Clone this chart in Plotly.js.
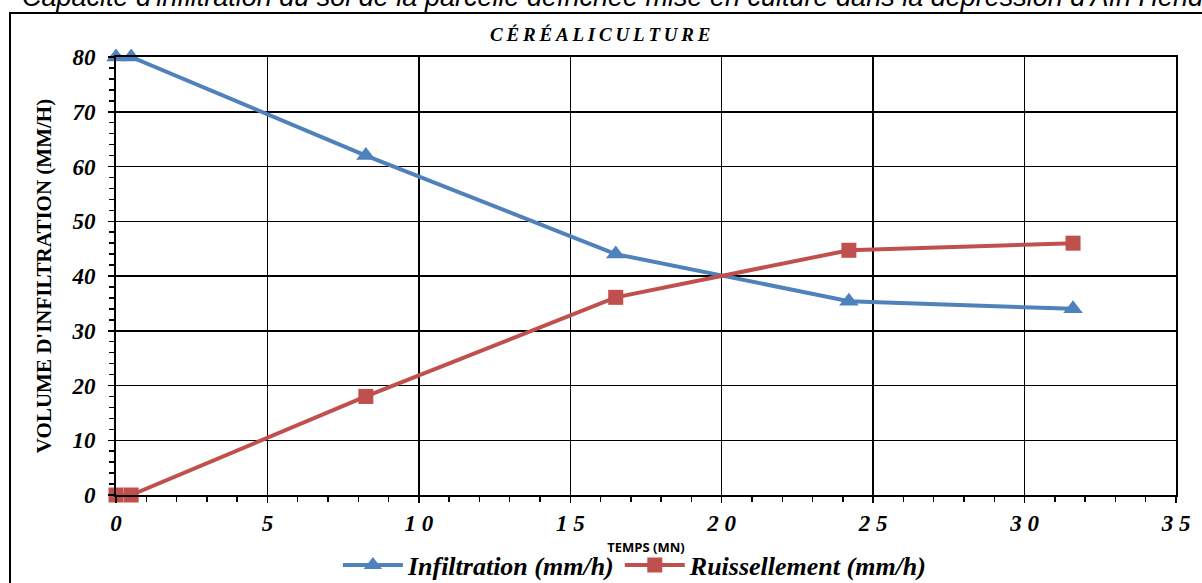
<!DOCTYPE html>
<html><head><meta charset="utf-8">
<script src="https://cdn.plot.ly/plotly-3.0.1.min.js"></script>
<style>body{margin:0;padding:0;background:#fff}#c{width:1202px;height:583px}</style>
</head><body><div id="c"></div>
<script>
const temps = [0, 0.5, 8.25, 16.5, 24.2, 31.6];
const infiltration = [80, 80, 62, 44, 35.4, 34];
const ruissellement = [0, 0, 18, 36.1, 44.7, 46];
const xTickVals = [0, 5, 10, 15, 20, 25, 30, 35];
const xTickText = ['0', '5', '1 0', '1 5', '2 0', '2 5', '3 0', '3 5'];
const yTickVals = [0, 10, 20, 30, 40, 50, 60, 70, 80];

const serif = 'Liberation Serif, Times New Roman, serif';
const traces = [
  {x: temps, y: infiltration, name: 'Infiltration (mm/h)', type: 'scatter', mode: 'lines+markers',
   line: {color: '#4F81BD', width: 4}, marker: {symbol: 'triangle-up', size: 17, color: '#4F81BD'}, cliponaxis: false},
  {x: temps, y: ruissellement, name: 'Ruissellement (mm/h)', type: 'scatter', mode: 'lines+markers',
   line: {color: '#C0504D', width: 4}, marker: {symbol: 'square', size: 15, color: '#C0504D'}, cliponaxis: false}
];

const layout = {
  width: 1202, height: 583,
  margin: {l: 116, r: 26, t: 57, b: 88, autoexpand: false},
  paper_bgcolor: '#fff', plot_bgcolor: '#fff',
  showlegend: true,
  legend: {orientation: 'h', x: 0.49, xanchor: 'center', y: (495 - 565) / 438, yanchor: 'middle',
           font: {family: serif, size: 26, color: '#000', weight: 'bold', style: 'italic'},
           itemwidth: 60, tracegroupgap: 0, bgcolor: 'rgba(0,0,0,0)'},
  xaxis: {range: [0, 35], tickvals: xTickVals, ticktext: xTickText, showgrid: true, gridcolor: '#000', gridwidth: 1.5,
          showline: true, linecolor: '#000', linewidth: 2, mirror: true, zeroline: false, automargin: false,
          ticks: 'outside', ticklen: 6, tickwidth: 1.5, tickcolor: '#000',
          minor: {dtick: 1, ticks: 'outside', ticklen: 5, tickwidth: 1.5, tickcolor: '#000', showgrid: false},
          tickfont: {family: serif, size: 23, color: '#000', weight: 'bold', style: 'italic'},
          title: {text: 'TEMPS (MN)', font: {family: 'Open Sans, sans-serif', size: 13, color: '#000', weight: 'bold'}, standoff: 8}},
  yaxis: {range: [0, 80], tickvals: yTickVals, showgrid: true, gridcolor: '#000', gridwidth: 1.5,
          showline: true, linecolor: '#000', linewidth: 2, mirror: true, zeroline: false, automargin: false,
          ticks: 'outside', ticklen: 6, tickwidth: 1.5, tickcolor: '#000', ticklabelstandoff: 8,
          minor: {dtick: 2, ticks: 'outside', ticklen: 5, tickwidth: 1.5, tickcolor: '#000', showgrid: false},
          tickfont: {family: serif, size: 23, color: '#000', weight: 'bold', style: 'italic'},
          title: {text: "VOLUME D'INFILTRATION (MM/H)", font: {family: serif, size: 21, color: '#000', weight: 'bold'}, standoff: 14}},
  annotations: [
    {text: 'C\u2009É\u2009R\u2009É\u2009A\u2009L\u2009I\u2009C\u2009U\u2009L\u2009T\u2009U\u2009R\u2009E', xref: 'paper', yref: 'paper',
     x: 0.4575, y: (495 - 35) / 438, xanchor: 'center', yanchor: 'middle', showarrow: false,
     font: {family: serif, size: 19, color: '#000', weight: 'bold', style: 'italic'}},
    {text: "Capacité d'infiltration du sol de la parcelle défrichée mise en culture dans la dépression d'Aïn Hendi", xref: 'paper', yref: 'paper',
     x: (20 - 116) / 1060, y: (495 - 14) / 438, xanchor: 'left', yanchor: 'bottom', showarrow: false,
     font: {family: 'Liberation Sans, sans-serif', size: 27, color: '#000', style: 'italic'}}
  ],
  shapes: [
    {type: 'rect', xref: 'paper', yref: 'paper', x0: (10 - 116) / 1060, x1: (1215 - 116) / 1060,
     y0: (495 - 600) / 438, y1: (495 - 13) / 438, line: {color: '#000', width: 2}, fillcolor: 'rgba(0,0,0,0)', layer: 'below'}
  ]
};
Plotly.newPlot('c', traces, layout, {displayModeBar: false, staticPlot: true});
</script></body></html>
